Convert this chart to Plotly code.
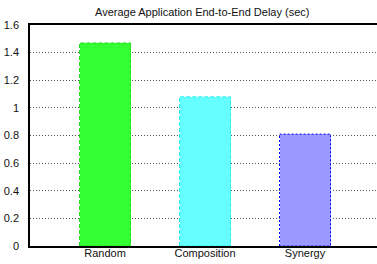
import plotly.graph_objects as go

categories = ["Random", "Composition", "Synergy"]
delays = [1.47, 1.08, 0.81]
fill_colors = ["#33ff33", "#66ffff", "#9999ff"]
edge_colors = ["#22dd22", "#22eeee", "#0000ff"]
edge_dash = ["4px,2px", "4px,2px", "2px,2px"]
y_ticks = [0, 0.2, 0.4, 0.6, 0.8, 1, 1.2, 1.4, 1.6]
y_tick_text = ["0", "0.2", "0.4", "0.6", "0.8", "1", "1.2", "1.4", "1.6"]

bar_w = 0.51
xs = list(range(len(categories)))

fig = go.Figure()
fig.add_trace(go.Bar(
    x=xs, y=delays, width=bar_w,
    marker=dict(color=fill_colors, line=dict(width=0)),
    showlegend=False, hoverinfo="skip",
))
for i, v in enumerate(delays):
    x0, x1 = xs[i] - bar_w / 2, xs[i] + bar_w / 2
    fig.add_trace(go.Scatter(
        x=[x0, x0, x1, x1, x0], y=[0, v, v, 0, 0], mode="lines",
        line=dict(color=edge_colors[i], width=1, dash=edge_dash[i]),
        showlegend=False, hoverinfo="skip",
    ))

fig.update_layout(
    width=377, height=264,
    margin=dict(l=30, r=0, t=25, b=18, autoexpand=False),
    paper_bgcolor="white", plot_bgcolor="white",
    font=dict(family="Liberation Sans, Arial, sans-serif", size=11, color="#111"),
    title=dict(text="Average Application End-to-End Delay (sec)", x=0.5365, xanchor="center",
               y=0.955, yanchor="middle", font=dict(size=11, color="#111")),
    bargap=0,
)
fig.update_xaxes(
    range=[-0.75, 2.72], tickvals=xs, ticktext=categories,
    showline=True, linecolor="black", linewidth=1.5, mirror=True,
    showgrid=False, zeroline=False, ticks="", ticklen=0, automargin=False,
    ticklabelstandoff=-4,
)
fig.update_yaxes(
    range=[0, 1.6], tickvals=y_ticks, ticktext=y_tick_text,
    showline=True, linecolor="black", linewidth=1.5, mirror=False,
    showgrid=True, gridcolor="#555", griddash="1px,2px", gridwidth=1,
    zeroline=False, ticks="", ticklabelstandoff=7, automargin=False,
)
fig.write_html("out.html", config={"displayModeBar": False},
               post_script="document.body.style.margin='0';")
